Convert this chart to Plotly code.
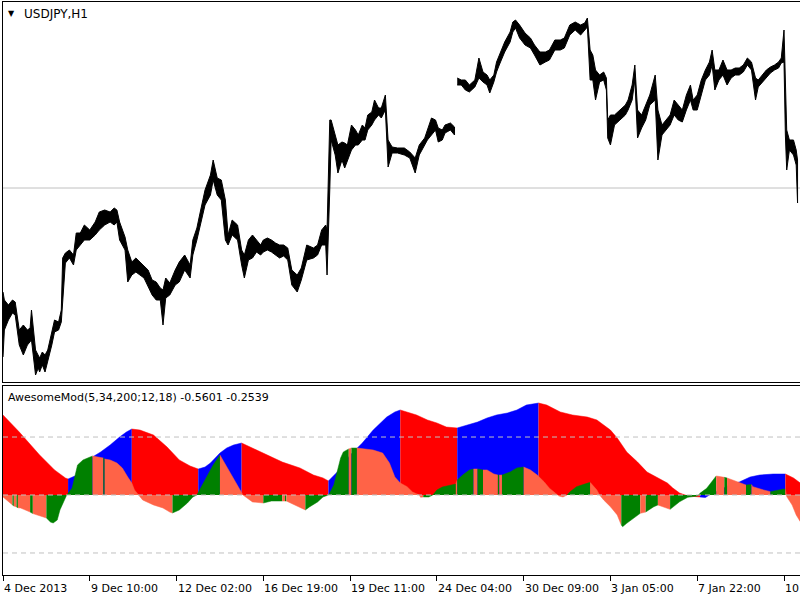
import plotly.graph_objects as go

# ---------------- data ----------------
TICK_BARS = [0, 64, 128, 192, 256, 320, 384, 448, 512, 576]
TICK_TEXT = ["4 Dec 2013", "9 Dec 10:00", "12 Dec 02:00", "16 Dec 19:00", "19 Dec 11:00",
             "24 Dec 04:00", "30 Dec 09:00", "3 Jan 05:00", "7 Jan 22:00", "10"]

# price envelope (bar index, high, low); None marks the data gap
PRICE_BAR = [0, 1, 4, 7, 9, 10, 12, 15, 18, 20, 21, 24, 26, 27, 29, 31, 33, 36, 38, 41, 43, 44, 46, 49, 52,
             54, 57, 60, 64, 68, 71, 75, 79, 82, 84, 86, 90, 92, 95, 98, 101, 104, 107, 110, 113, 116, 118,
             120, 123, 127, 130, 134, 138, 140, 143, 145, 149, 153, 155, 158, 161, 164, 166, 169, 173, 176,
             178, 181, 184, 187, 190, 192, 195, 198, 201, 204, 207, 210, 213, 217, 220, 224, 229, 232, 235,
             238, 239, 241, 242, 245, 247, 250, 252, 254, 257, 260, 262, 265, 267, 269, 272, 274, 277, 279,
             282, 284, 287, 291, 296, 300, 304, 307, 311, 313, 316, 319, 321, 324, 326, 330, 333,
             None,
             335, 338, 341, 344, 348, 351, 354, 357, 359, 362, 364, 366, 370, 374, 376, 378, 381, 385, 389,
             392, 396, 400, 403, 407, 411, 414, 418, 422, 426, 429, 431, 433, 435, 437, 440, 443, 445, 446,
             448, 451, 455, 459, 461, 464, 466, 468, 471, 474, 477, 481, 483, 486, 489, 492, 495, 498, 501,
             504, 507, 509, 512, 515, 518, 521, 523, 525, 528, 531, 534, 537, 540, 543, 546, 549, 552, 555,
             557, 560, 563, 566, 569, 572, 574, 576, 577, 578, 580, 583, 585, 586]
PRICE_HIGH = [102.58, 102.50, 102.45, 102.50, 102.48, 102.40, 102.20, 102.25, 102.20, 102.22, 102.40, 102.00,
              101.95, 101.92, 101.98, 101.95, 102.00, 102.20, 102.30, 102.28, 102.40, 102.92, 102.97, 103.00,
              102.95, 103.17, 103.17, 103.25, 103.20, 103.28, 103.38, 103.40, 103.38, 103.42, 103.40, 103.28,
              103.13, 103.00, 102.88, 102.92, 102.88, 102.85, 102.80, 102.70, 102.68, 102.62, 102.60, 102.72,
              102.67, 102.80, 102.88, 102.95, 102.85, 103.10, 103.22, 103.35, 103.60, 103.75, 103.90, 103.72,
              103.70, 103.50, 103.15, 103.30, 103.25, 103.00, 102.95, 103.10, 103.15, 103.10, 103.05, 103.10,
              103.12, 103.10, 103.07, 103.05, 103.05, 103.02, 102.80, 102.75, 102.82, 103.05, 103.02, 103.05,
              103.20, 103.25, 103.20, 104.30, 104.30, 104.15, 104.05, 104.08, 104.07, 104.05, 104.25, 104.20,
              104.15, 104.25, 104.22, 104.35, 104.38, 104.50, 104.42, 104.42, 104.55, 104.10, 104.03, 104.02,
              104.02, 103.98, 103.92, 104.05, 104.12, 104.20, 104.32, 104.30, 104.22, 104.20, 104.25, 104.27,
              104.23,
              None,
              104.72, 104.70, 104.70, 104.65, 104.70, 104.92, 104.78, 104.75, 104.70, 104.75, 104.88, 104.95,
              105.08, 105.18, 105.28, 105.30, 105.25, 105.17, 105.12, 105.05, 104.98, 104.98, 105.00, 105.10,
              105.10, 105.12, 105.25, 105.28, 105.25, 105.27, 105.32, 105.00, 104.95, 104.80, 104.75, 104.78,
              104.72, 104.30, 104.35, 104.35, 104.40, 104.45, 104.50, 104.65, 104.85, 104.40, 104.35, 104.45,
              104.55, 104.75, 104.40, 104.25, 104.30, 104.35, 104.50, 104.45, 104.40, 104.55, 104.65, 104.50,
              104.55, 104.70, 104.80, 104.88, 105.00, 104.80, 104.80, 104.90, 104.80, 104.80, 104.82, 104.82,
              104.85, 104.92, 104.88, 104.72, 104.70, 104.75, 104.80, 104.83, 104.85, 104.88, 104.92, 105.20,
              104.60, 104.20, 104.10, 104.10, 104.00, 103.90]
PRICE_LOW = [101.93, 102.20, 102.30, 102.37, 102.35, 102.25, 102.05, 101.95, 102.05, 102.08, 102.10, 101.75,
             101.82, 101.78, 101.85, 101.78, 101.88, 102.05, 102.18, 102.20, 102.28, 102.50, 102.87, 102.92,
             102.85, 103.00, 103.05, 103.10, 103.10, 103.15, 103.20, 103.25, 103.28, 103.25, 103.28, 103.10,
             103.00, 102.68, 102.75, 102.78, 102.75, 102.72, 102.63, 102.55, 102.50, 102.50, 102.25, 102.52,
             102.55, 102.65, 102.68, 102.80, 102.72, 102.95, 103.10, 103.20, 103.45, 103.55, 103.70, 103.55,
             103.50, 103.10, 103.05, 103.15, 103.10, 102.85, 102.72, 102.90, 102.92, 102.98, 102.95, 102.98,
             103.00, 102.98, 102.95, 102.92, 102.94, 102.90, 102.65, 102.58, 102.70, 102.90, 102.92, 102.95,
             103.05, 103.05, 102.75, 103.60, 104.10, 103.95, 103.77, 103.90, 103.82, 103.90, 104.00, 104.05,
             104.05, 104.10, 104.10, 104.20, 104.25, 104.30, 104.35, 104.32, 104.40, 103.83, 103.97, 103.97,
             103.95, 103.92, 103.77, 103.95, 104.05, 104.10, 104.15, 104.20, 104.08, 104.10, 104.17, 104.20,
             104.15,
             None,
             104.65, 104.65, 104.60, 104.58, 104.63, 104.72, 104.68, 104.65, 104.57, 104.68, 104.78, 104.85,
             104.98, 105.08, 105.18, 105.22, 105.12, 105.05, 105.02, 104.95, 104.85, 104.88, 104.90, 105.00,
             105.00, 105.02, 105.15, 105.20, 105.15, 105.20, 105.23, 104.70, 104.70, 104.50, 104.68, 104.70,
             104.60, 104.12, 104.05, 104.25, 104.30, 104.35, 104.40, 104.50, 104.70, 104.12, 104.22, 104.30,
             104.45, 104.50, 103.90, 104.15, 104.20, 104.25, 104.35, 104.30, 104.28, 104.40, 104.50, 104.40,
             104.40, 104.55, 104.70, 104.75, 104.85, 104.60, 104.70, 104.75, 104.65, 104.72, 104.75, 104.75,
             104.78, 104.85, 104.80, 104.50, 104.63, 104.68, 104.72, 104.77, 104.80, 104.82, 104.87, 104.88,
             104.15, 103.80, 104.00, 103.95, 103.85, 103.47]
HLINE_PRICE = 103.62

# slow oscillator (filled area): bar, value, direction (r = falling, b = rising)
SLOW_BAR = [0, 12, 27, 38, 46, 48, 53, 60, 66, 72, 79, 86, 91, 95, 101, 111, 121, 130, 138, 144, 149, 153,
            160, 165, 170, 176, 184, 195, 206, 219, 229, 236, 240, 248, 256, 261, 265, 273, 283, 289, 293,
            305, 313, 320, 327, 335, 342, 350, 357, 364, 372, 379, 386, 395, 401, 411, 420, 431, 438, 448,
            453, 460, 468, 475, 482, 490, 494, 499, 503, 506, 514, 518, 521, 529, 536, 543, 551, 558, 568,
            577, 583, 588]
SLOW_VAL = [0.690, 0.543, 0.345, 0.216, 0.147, 0.138, 0.164, 0.233, 0.328, 0.371, 0.431, 0.500, 0.543,
            0.569, 0.560, 0.517, 0.414, 0.302, 0.250, 0.224, 0.241, 0.276, 0.362, 0.405, 0.431, 0.448,
            0.405, 0.345, 0.284, 0.233, 0.172, 0.147, 0.121, 0.216, 0.345, 0.405, 0.448, 0.560, 0.672,
            0.716, 0.733, 0.690, 0.647, 0.621, 0.586, 0.578, 0.603, 0.629, 0.664, 0.690, 0.707, 0.733,
            0.776, 0.793, 0.776, 0.716, 0.690, 0.672, 0.647, 0.560, 0.491, 0.371, 0.284, 0.198, 0.155,
            0.103, 0.060, 0.017, 0.000, -0.009, -0.017, -0.022, 0.000, 0.043, 0.086, 0.112, 0.155, 0.172,
            0.181, 0.181, 0.147, 0.103]
SLOW_DIR = list("r" * 5 + "b" * 8 + "r" * 6 + "b" * 6 + "r" * 7 + "b" * 8 + "r" * 5 + "b" * 8
                + "r" * 17 + "b" * 9 + "r" * 3)

# fast oscillator (histogram): bar, value, direction (g = rising, s = falling)
FAST_BAR = [0, 5, 7, 8, 10, 11, 13, 20, 22, 25, 30, 32, 35, 37, 40, 42, 46, 47, 51, 53, 55, 59, 64, 66,
            72, 74, 75, 79, 84, 88, 92, 95, 97, 100, 103, 111, 118, 123, 125, 130, 136, 140, 143, 145, 150,
            155, 159, 160, 165, 170, 175, 177, 180, 184, 192, 198, 206, 208, 209, 212, 215, 219, 223, 226,
            232, 236, 240, 241, 244, 246, 249, 251, 255, 257, 261, 273, 280, 285, 289, 293, 298, 302, 307,
            308, 310, 314, 317, 320, 324, 332, 334, 335, 339, 344, 347, 350, 354, 357, 362, 365, 366, 368,
            374, 379, 384, 389, 394, 399, 403, 408, 410, 413, 416, 418, 423, 431, 433, 438, 440, 443, 448,
            453, 456, 457, 460, 465, 470, 474, 480, 483, 489, 492, 499, 505, 512, 513, 514, 519, 524, 526,
            532, 534, 541, 548, 552, 553, 561, 566, 571, 576, 577, 578, 582, 585, 588]
FAST_VAL = [-0.017, -0.069, -0.086, -0.095, -0.103, -0.110, -0.112, -0.147, -0.160, -0.172, -0.190, -0.198,
            -0.233, -0.241, -0.216, -0.129, -0.026, 0.000, 0.060, 0.155, 0.259, 0.302, 0.328, 0.336,
            0.319, 0.319, 0.310, 0.302, 0.276, 0.233, 0.155, 0.103, 0.043, 0.000, -0.043, -0.086, -0.112,
            -0.147, -0.155, -0.129, -0.069, -0.017, 0.000, 0.043, 0.155, 0.259, 0.328, 0.345, 0.241, 0.147,
            0.043, 0.000, -0.026, -0.060, -0.069, -0.052, -0.052, -0.052, -0.052, -0.069, -0.086, -0.103,
            -0.129, -0.103, -0.060, -0.017, 0.000, 0.017, 0.086, 0.190, 0.319, 0.371, 0.397, 0.405, 0.405,
            0.388, 0.362, 0.276, 0.155, 0.103, 0.072, 0.026, 0.000, -0.020, -0.017, -0.017, 0.000, 0.043,
            0.069, 0.086, 0.095, 0.129, 0.172, 0.216, 0.224, 0.224, 0.216, 0.216, 0.181, 0.172, 0.172,
            0.172, 0.198, 0.233, 0.241, 0.216, 0.172, 0.115, 0.058, 0.014, -0.009, -0.017, 0.000, 0.026,
            0.072, 0.101, 0.109, 0.043, 0.000, -0.043, -0.101, -0.172, -0.259, -0.273, -0.244, -0.201,
            -0.158, -0.147, -0.101, -0.086, -0.115, -0.124, -0.058, -0.020, -0.009, 0.000, 0.014, 0.058,
            0.129, 0.164, 0.152, 0.147, 0.115, 0.086, 0.090, 0.072, 0.043, 0.029, 0.043, 0.052, 0.050,
            -0.014, -0.086, -0.172, -0.230]
FAST_DIR = list("ssgsgssgsss" + "g" * 12 + "ss" + "g" + "s" * 12 + "g" * 9 + "s" * 7 + "gg" + "s" + "g"
                + "ssss" + "g" * 10 + "s" + "g" + "s" * 10 + "g" * 6 + "s" + "ggg" + "s" + "g" + "sss"
                + "g" + "s" + "ggg" + "s" * 8 + "gggg" + "s" * 6 + "gggg" + "s" + "gg" + "ss" + "g" * 8
                + "s" + "g" + "ss" + "g" + "sss" + "ggg" + "s" * 5)

LEVELS = [0.5, 0.0, -0.5]
IND_LABEL = "AwesomeMod(5,34,200;12,18) -0.5601 -0.2539"
SYMBOL_LABEL = "USDJPY,H1"

COLORS = {"r": "#FF0000", "b": "#0000FF", "g": "#008000", "s": "#FF6347"}


def runs(bars, vals, dirs):
    segs = []
    start = 0
    n = len(bars)
    for i in range(1, n + 1):
        if i == n or dirs[i] != dirs[start]:
            end = min(i, n - 1)
            segs.append((dirs[start], bars[start:end + 1], vals[start:end + 1]))
            start = i
    return segs


fig = go.Figure()

# price panel: split at gap
pieces, cur = [], ([], [], [])
for b, h, l in zip(PRICE_BAR, PRICE_HIGH, PRICE_LOW):
    if b is None:
        pieces.append(cur)
        cur = ([], [], [])
        continue
    cur[0].append(b); cur[1].append(h); cur[2].append(l)
pieces.append(cur)
for bars, highs, lows in pieces:
    fig.add_trace(go.Scatter(x=bars + bars[::-1], y=highs + lows[::-1], fill="toself",
                             fillcolor="black", mode="lines", line=dict(color="black", width=1),
                             xaxis="x", yaxis="y", hoverinfo="skip"))

for c, bx, vy in runs(SLOW_BAR, SLOW_VAL, SLOW_DIR):
    fig.add_trace(go.Scatter(x=bx, y=vy, fill="tozeroy", fillcolor=COLORS[c], mode="lines",
                             line=dict(color=COLORS[c], width=0.5), xaxis="x2", yaxis="y2",
                             hoverinfo="skip"))
for c, bx, vy in runs(FAST_BAR, FAST_VAL, FAST_DIR):
    fig.add_trace(go.Scatter(x=bx, y=vy, fill="tozeroy", fillcolor=COLORS[c], mode="lines",
                             line=dict(color=COLORS[c], width=0.5), xaxis="x2", yaxis="y2",
                             hoverinfo="skip"))

shapes = [dict(type="line", xref="paper", x0=0, x1=1, yref="y", y0=HLINE_PRICE, y1=HLINE_PRICE,
               line=dict(color="#C0C0C0", width=1), layer="below")]
for lv in LEVELS:
    shapes.append(dict(type="line", xref="paper", x0=0, x1=1, yref="y2", y0=lv, y1=lv,
                       line=dict(color="#C0C0C0", width=1, dash="5px,4px"), layer="above"))

font = dict(family="DejaVu Sans", size=11, color="black")
ann = []
for b, t in zip(TICK_BARS, TICK_TEXT):
    ann.append(dict(x=b, xref="x2", y=-0.0236, yref="paper", text=t, showarrow=False,
                    xanchor="left", yanchor="middle", xshift=-1, font=font))
ann.append(dict(x=0.0107, xref="paper", y=0.980, yref="paper", text="▼", showarrow=False,
                xanchor="center", yanchor="middle", font=dict(family="DejaVu Sans", size=8, color="black")))
ann.append(dict(x=0.0238, xref="paper", y=0.9782, yref="paper", text=SYMBOL_LABEL, showarrow=False,
                xanchor="left", yanchor="middle", font=dict(family="DejaVu Sans", size=12, color="black")))
ann.append(dict(x=0.004, xref="paper", y=(575 - 397.5) / 573, yref="paper", text=IND_LABEL,
                showarrow=False, xanchor="left", yanchor="middle", font=font))

XR = [0, 587.8]
fig.update_layout(
    width=800, height=600, margin=dict(l=3, r=0, t=2, b=25),
    paper_bgcolor="white", plot_bgcolor="white", showlegend=False, hovermode=False,
    xaxis=dict(domain=[0, 1], anchor="y", range=XR, showline=True, mirror=True, linecolor="black",
               linewidth=1, showgrid=False, zeroline=False, showticklabels=False, ticks=""),
    yaxis=dict(domain=[193 / 573, 1], anchor="x", range=[101.68, 105.48], showline=True,
               linecolor="black", linewidth=1, showgrid=False, zeroline=False, showticklabels=False,
               ticks=""),
    xaxis2=dict(domain=[0, 1], anchor="y2", range=XR, showline=True, mirror=True, linecolor="black",
                linewidth=1, showgrid=False, zeroline=False, showticklabels=False, ticks="outside",
                ticklen=5, tickcolor="black", tickvals=TICK_BARS),
    yaxis2=dict(domain=[0, 189 / 573], anchor="x2", range=[-0.69, 0.94], showline=True,
                linecolor="black", linewidth=1, showgrid=False, zeroline=False, showticklabels=False,
                ticks=""),
    shapes=shapes, annotations=ann,
)

fig.write_html("out.html")
